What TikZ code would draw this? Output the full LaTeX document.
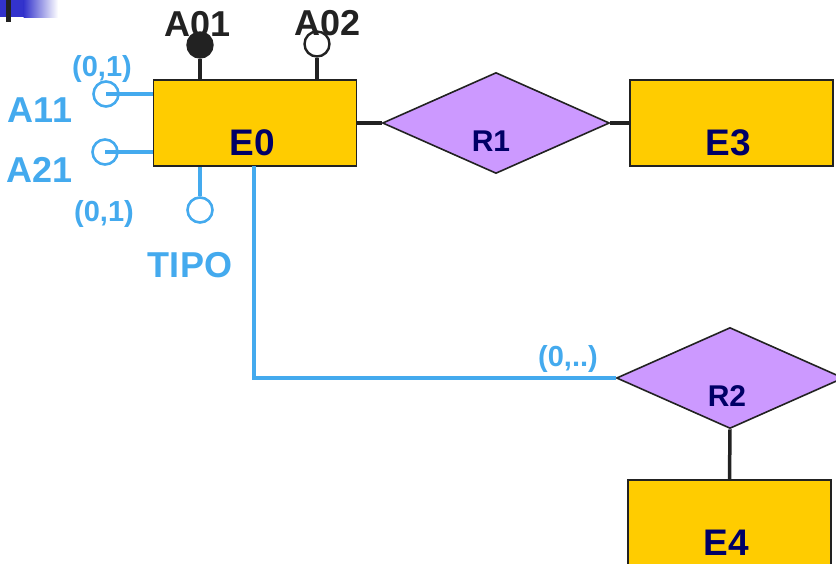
\documentclass[tikz,border=0pt]{standalone}
\usepackage{fontspec}
\setmainfont{Liberation Sans}
\usetikzlibrary{shapes.geometric}
\definecolor{ent}{HTML}{FFCC00}
\definecolor{rel}{HTML}{CC99FF}
\definecolor{navy}{HTML}{000066}
\definecolor{lblue}{HTML}{44AAEE}
\definecolor{dk}{HTML}{222222}
\definecolor{barblue}{HTML}{3333CC}
\begin{document}
\begin{tikzpicture}[x=1pt,y=-1pt,
  entity/.style={draw=dk,line width=1.6pt,fill=ent,minimum width=203pt,minimum height=86pt,inner sep=0pt},
  relation/.style={diamond,draw=dk,line width=1.6pt,fill=rel,minimum width=227pt,minimum height=101pt,inner sep=0pt},
  conn/.style={draw=dk,line width=3.5pt},
  bconn/.style={draw=lblue,line width=3.3pt},
  attrk/.style={circle,draw=dk,fill=dk,line width=2.4pt,minimum size=25pt,inner sep=0pt},
  attro/.style={circle,draw=dk,fill=white,line width=2.4pt,minimum size=25pt,inner sep=0pt},
  battr/.style={circle,draw=lblue,line width=2.6pt,minimum size=25pt,inner sep=0pt},
  entlbl/.style={anchor=base,text=navy,font=\fontsize{37}{40}\selectfont\bfseries,inner sep=0pt},
  rellbl/.style={anchor=base,text=navy,font=\fontsize{30}{34}\selectfont\bfseries,inner sep=0pt},
  klbl/.style={anchor=base,text=dk,font=\fontsize{36}{40}\selectfont\bfseries,inner sep=0pt},
  blbl/.style={anchor=base,text=lblue,font=\fontsize{36}{40}\selectfont\bfseries,inner sep=0pt},
  card/.style={anchor=base,text=lblue,font=\fontsize{29}{32}\selectfont\bfseries,inner sep=0pt}]
\useasboundingbox (0,0) rectangle (836,563);
% top-left decoration
\fill[barblue] (0,0) rectangle (24,17);
\shade[left color=barblue,right color=white] (23.5,0) rectangle (58,17);
\fill[dk] (6,0) rectangle (11,22);
% entities and relations
\node[entity] (e0) at (255,123) {};
\node[entity] (e3) at (731.5,123) {};
\node[entity] (e4) at (729.5,523) {};
\node[relation] (r1) at (496,123) {};
\node[relation] (r2) at (730,378) {};
\node[entlbl] (e0l) at (252,155) {E0};
\node[entlbl] (e3l) at (728,155) {E3};
\node[entlbl] (e4l) at (726,555) {E4};
\node[rellbl] (r1l) at (491,151) {R1};
\node[rellbl] (r2l) at (727,406) {R2};
% connectors
\draw[conn] (e0.east) -- (r1.west);
\draw[conn] (r1.east) -- (e3.west);
\draw[conn] (r2.south) -- (e4.north);
\coordinate (bend) at (254,378);
\draw[bconn] (254,166) coordinate (e0b) -- (bend) -- (r2.west);
\node[card] (c3) at (568,366) {(0,..)};
% attributes
\node[attro] (a02c) at (317,44) {};
\draw[conn] (a02c.south) -- (a02c.south |- e0.north);
\node[attrk] (a01c) at (200,45) {};
\draw[conn] (a01c.south) -- (a01c.south |- e0.north);
\node[klbl] (a01l) at (198,36) {A01};
\node[klbl] (a02l) at (328,35) {A02};
\coordinate (a11c0) at (106,94);
\coordinate (a21c0) at (105,152);
\draw[bconn] (a11c0) -- (a11c0 -| e0.west);
\draw[bconn] (a21c0) -- (a21c0 -| e0.west);
\node[battr] (a11c) at (a11c0) {};
\node[battr] (a21c) at (a21c0) {};
\node[battr,fill=white] (tipoc) at (200,210) {};
\draw[bconn] (tipoc.north) -- (tipoc.north |- e0.south);
\node[card] (c1) at (102,76) {(0,1)};
\node[card] (c2) at (104,221) {(0,1)};
\node[blbl] (a11l) at (40,122) {A11};
\node[blbl] (a21l) at (40,182) {A21};
\node[blbl] (tipol) at (190,277) {TIPO};
\end{tikzpicture}
\end{document}
